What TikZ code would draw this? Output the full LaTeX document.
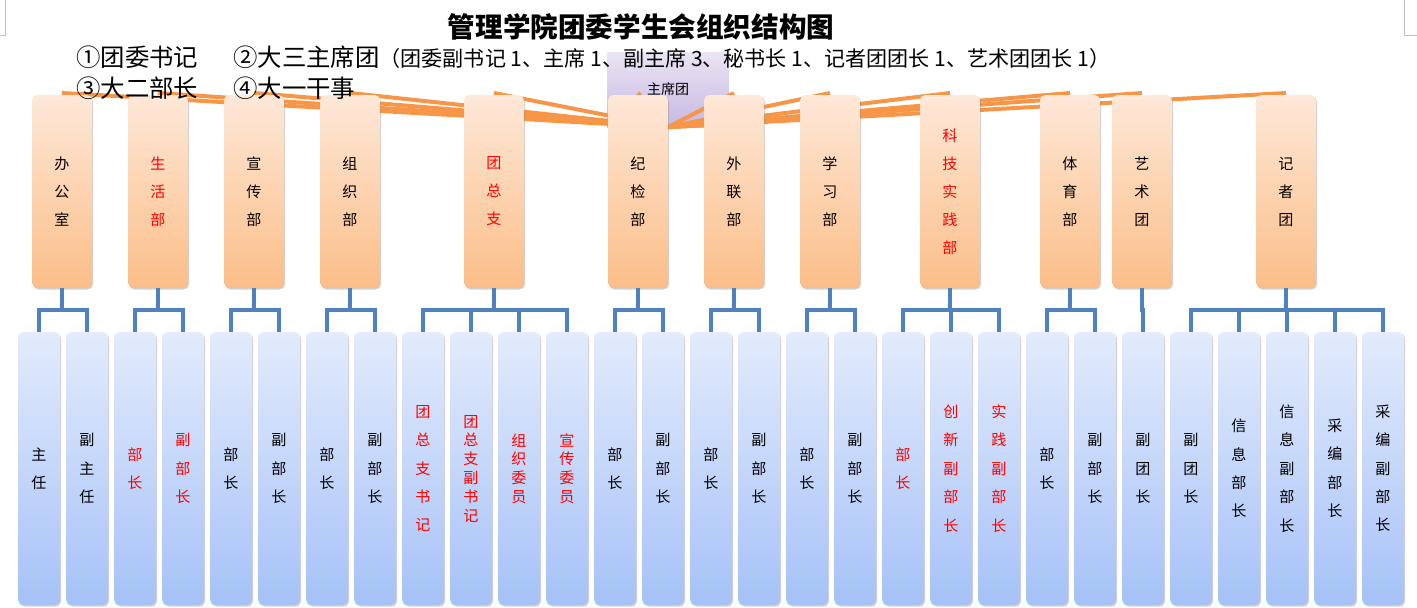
\documentclass[tikz,border=0pt]{standalone}
\usepackage{fontspec}
\setmainfont{Noto Sans CJK SC}
\usetikzlibrary{shadows,calc}
\definecolor{org}{HTML}{F79646}
\definecolor{blu}{HTML}{4F81BD}
\definecolor{otop}{HTML}{FEE8D8}
\definecolor{obot}{HTML}{FBBE88}
\definecolor{btop}{HTML}{E3EBFC}
\definecolor{bbot}{HTML}{A5C2F7}
\definecolor{ptop}{HTML}{EAE4F3}
\definecolor{pbot}{HTML}{C8B8E3}
\definecolor{rd}{HTML}{FF0000}
\definecolor{markgray}{HTML}{BFBFBF}
\begin{document}
\begin{tikzpicture}[x=0.75pt,y=-0.75pt,
  shd/.style={drop shadow={shadow xshift=0.8pt,shadow yshift=-1.2pt,opacity=0.3,fill=black!60}},
  obox/.style={rectangle,rounded corners=4pt,minimum width=45pt,minimum height=144.75pt,
    top color=otop,bottom color=obot,draw=none,shd,align=center,inner sep=0pt,
    font=\fontsize{11.3}{21}\selectfont},
  bbox/.style={rectangle,rounded corners=4pt,minimum width=31.5pt,minimum height=204.75pt,
    top color=btop,bottom color=bbot,draw=none,shd,align=center,inner sep=0pt,
    font=\fontsize{11.3}{21.3}\selectfont},
  tight/.style={font=\fontsize{11.3}{14.1}\selectfont},
  pbox/.style={rectangle,minimum width=91.5pt,minimum height=56.25pt,top color=ptop,bottom color=pbot,
    draw=none,inner sep=0pt,font=\fontsize{10.5}{12}\selectfont},
  oline/.style={draw=org,line width=3pt},
  bline/.style={draw=blu,line width=3pt},
  red/.style={text=rd},
  legend/.style={anchor=west,inner sep=0pt,font=\fontsize{18.3}{20}\selectfont},
  cornermark/.style={draw=markgray,line width=0.6pt}
]
\useasboundingbox (0,0) rectangle (1417,607);
% corner marks
\draw[cornermark] (5,0) -- (5,35) -- (0,35);
\draw[cornermark] (1404,0) -- (1404,35) -- (1417,35);

% title
\node[inner sep=0pt,font=\fontsize{20.7}{24}\selectfont\bfseries] (title) at (641,27) {管理学院团委学生会组织结构图};

% chairman group box
\node[pbox] (zx) at (668,89.5) {主席团};

% coordinates for orange box tops (lines are drawn first)
\foreach \n/\x in {1/62,2/158,3/254,4/350,5/494,6/638,7/734,8/830,9/950,10/1070,11/1142,12/1286}{
  \coordinate (t\n) at (\x,93);
}
\foreach \n in {1,...,12}{
  \draw[oline] (zx.south) -- (t\n);
}

% orange department boxes
\node[obox] (o1) at (62,191.5) {办\\公\\室};
\node[obox,red] (o2) at (158,191.5) {生\\活\\部};
\node[obox] (o3) at (254,191.5) {宣\\传\\部};
\node[obox] (o4) at (350,191.5) {组\\织\\部};
\node[obox,red] (o5) at (494,191.5) {团\\总\\支};
\node[obox] (o6) at (638,191.5) {纪\\检\\部};
\node[obox] (o7) at (734,191.5) {外\\联\\部};
\node[obox] (o8) at (830,191.5) {学\\习\\部};
\node[obox,red] (o9) at (950,191.5) {科\\技\\实\\践\\部};
\node[obox] (o10) at (1070,191.5) {体\\育\\部};
\node[obox] (o11) at (1142,191.5) {艺\\术\\团};
\node[obox] (o12) at (1286,191.5) {记\\者\\团};

% blue position boxes
\node[bbox] (b1) at (39,468.5) {主\\任};
\node[bbox] (b2) at (87,468.5) {副\\主\\任};
\node[bbox,red] (b3) at (135,468.5) {部\\长};
\node[bbox,red] (b4) at (183,468.5) {副\\部\\长};
\node[bbox] (b5) at (231,468.5) {部\\长};
\node[bbox] (b6) at (279,468.5) {副\\部\\长};
\node[bbox] (b7) at (327,468.5) {部\\长};
\node[bbox] (b8) at (375,468.5) {副\\部\\长};
\node[bbox,red] (b9) at (423,468.5) {团\\总\\支\\书\\记};
\node[bbox,red,tight] (b10) at (471,468.5) {团\\总\\支\\副\\书\\记};
\node[bbox,red,tight] (b11) at (519,468.5) {组\\织\\委\\员};
\node[bbox,red,tight] (b12) at (567,468.5) {宣\\传\\委\\员};
\node[bbox] (b13) at (615,468.5) {部\\长};
\node[bbox] (b14) at (663,468.5) {副\\部\\长};
\node[bbox] (b15) at (711,468.5) {部\\长};
\node[bbox] (b16) at (759,468.5) {副\\部\\长};
\node[bbox] (b17) at (807,468.5) {部\\长};
\node[bbox] (b18) at (855,468.5) {副\\部\\长};
\node[bbox,red] (b19) at (903,468.5) {部\\长};
\node[bbox,red] (b20) at (951,468.5) {创\\新\\副\\部\\长};
\node[bbox,red] (b21) at (999,468.5) {实\\践\\副\\部\\长};
\node[bbox] (b22) at (1047,468.5) {部\\长};
\node[bbox] (b23) at (1095,468.5) {副\\部\\长};
\node[bbox] (b24) at (1143,468.5) {副\\团\\长};
\node[bbox] (b25) at (1191,468.5) {副\\团\\长};
\node[bbox] (b26) at (1239,468.5) {信\\息\\部\\长};
\node[bbox] (b27) at (1287,468.5) {信\\息\\副\\部\\长};
\node[bbox] (b28) at (1335,468.5) {采\\编\\部\\长};
\node[bbox] (b29) at (1383,468.5) {采\\编\\副\\部\\长};

% blue brackets
\foreach \p/\cs in {o1/{b1,b2},o2/{b3,b4},o3/{b5,b6},o4/{b7,b8},o5/{b9,b10,b11,b12},
  o6/{b13,b14},o7/{b15,b16},o8/{b17,b18},o9/{b19,b20,b21},o10/{b22,b23},o11/{b24},
  o12/{b25,b26,b27,b28,b29}}{
  \foreach \c in \cs {
    \draw[bline] (\p.south) -- ++(0,22) -| (\c.north);
  }
}

% legend (drawn on top)
\node[legend] (l1) at (76,57) {①团委书记};
\node[legend] (l2) at (233,57) {②大三主席团{\fontsize{15.8}{18}\selectfont（团委副书记 1、主席 1、副主席 3、秘书长 1、记者团团长 1、艺术团团长 1）}};
\node[legend] (l3) at (76,88) {③大二部长};
\node[legend] (l4) at (233,88) {④大一干事};
\end{tikzpicture}
\end{document}
